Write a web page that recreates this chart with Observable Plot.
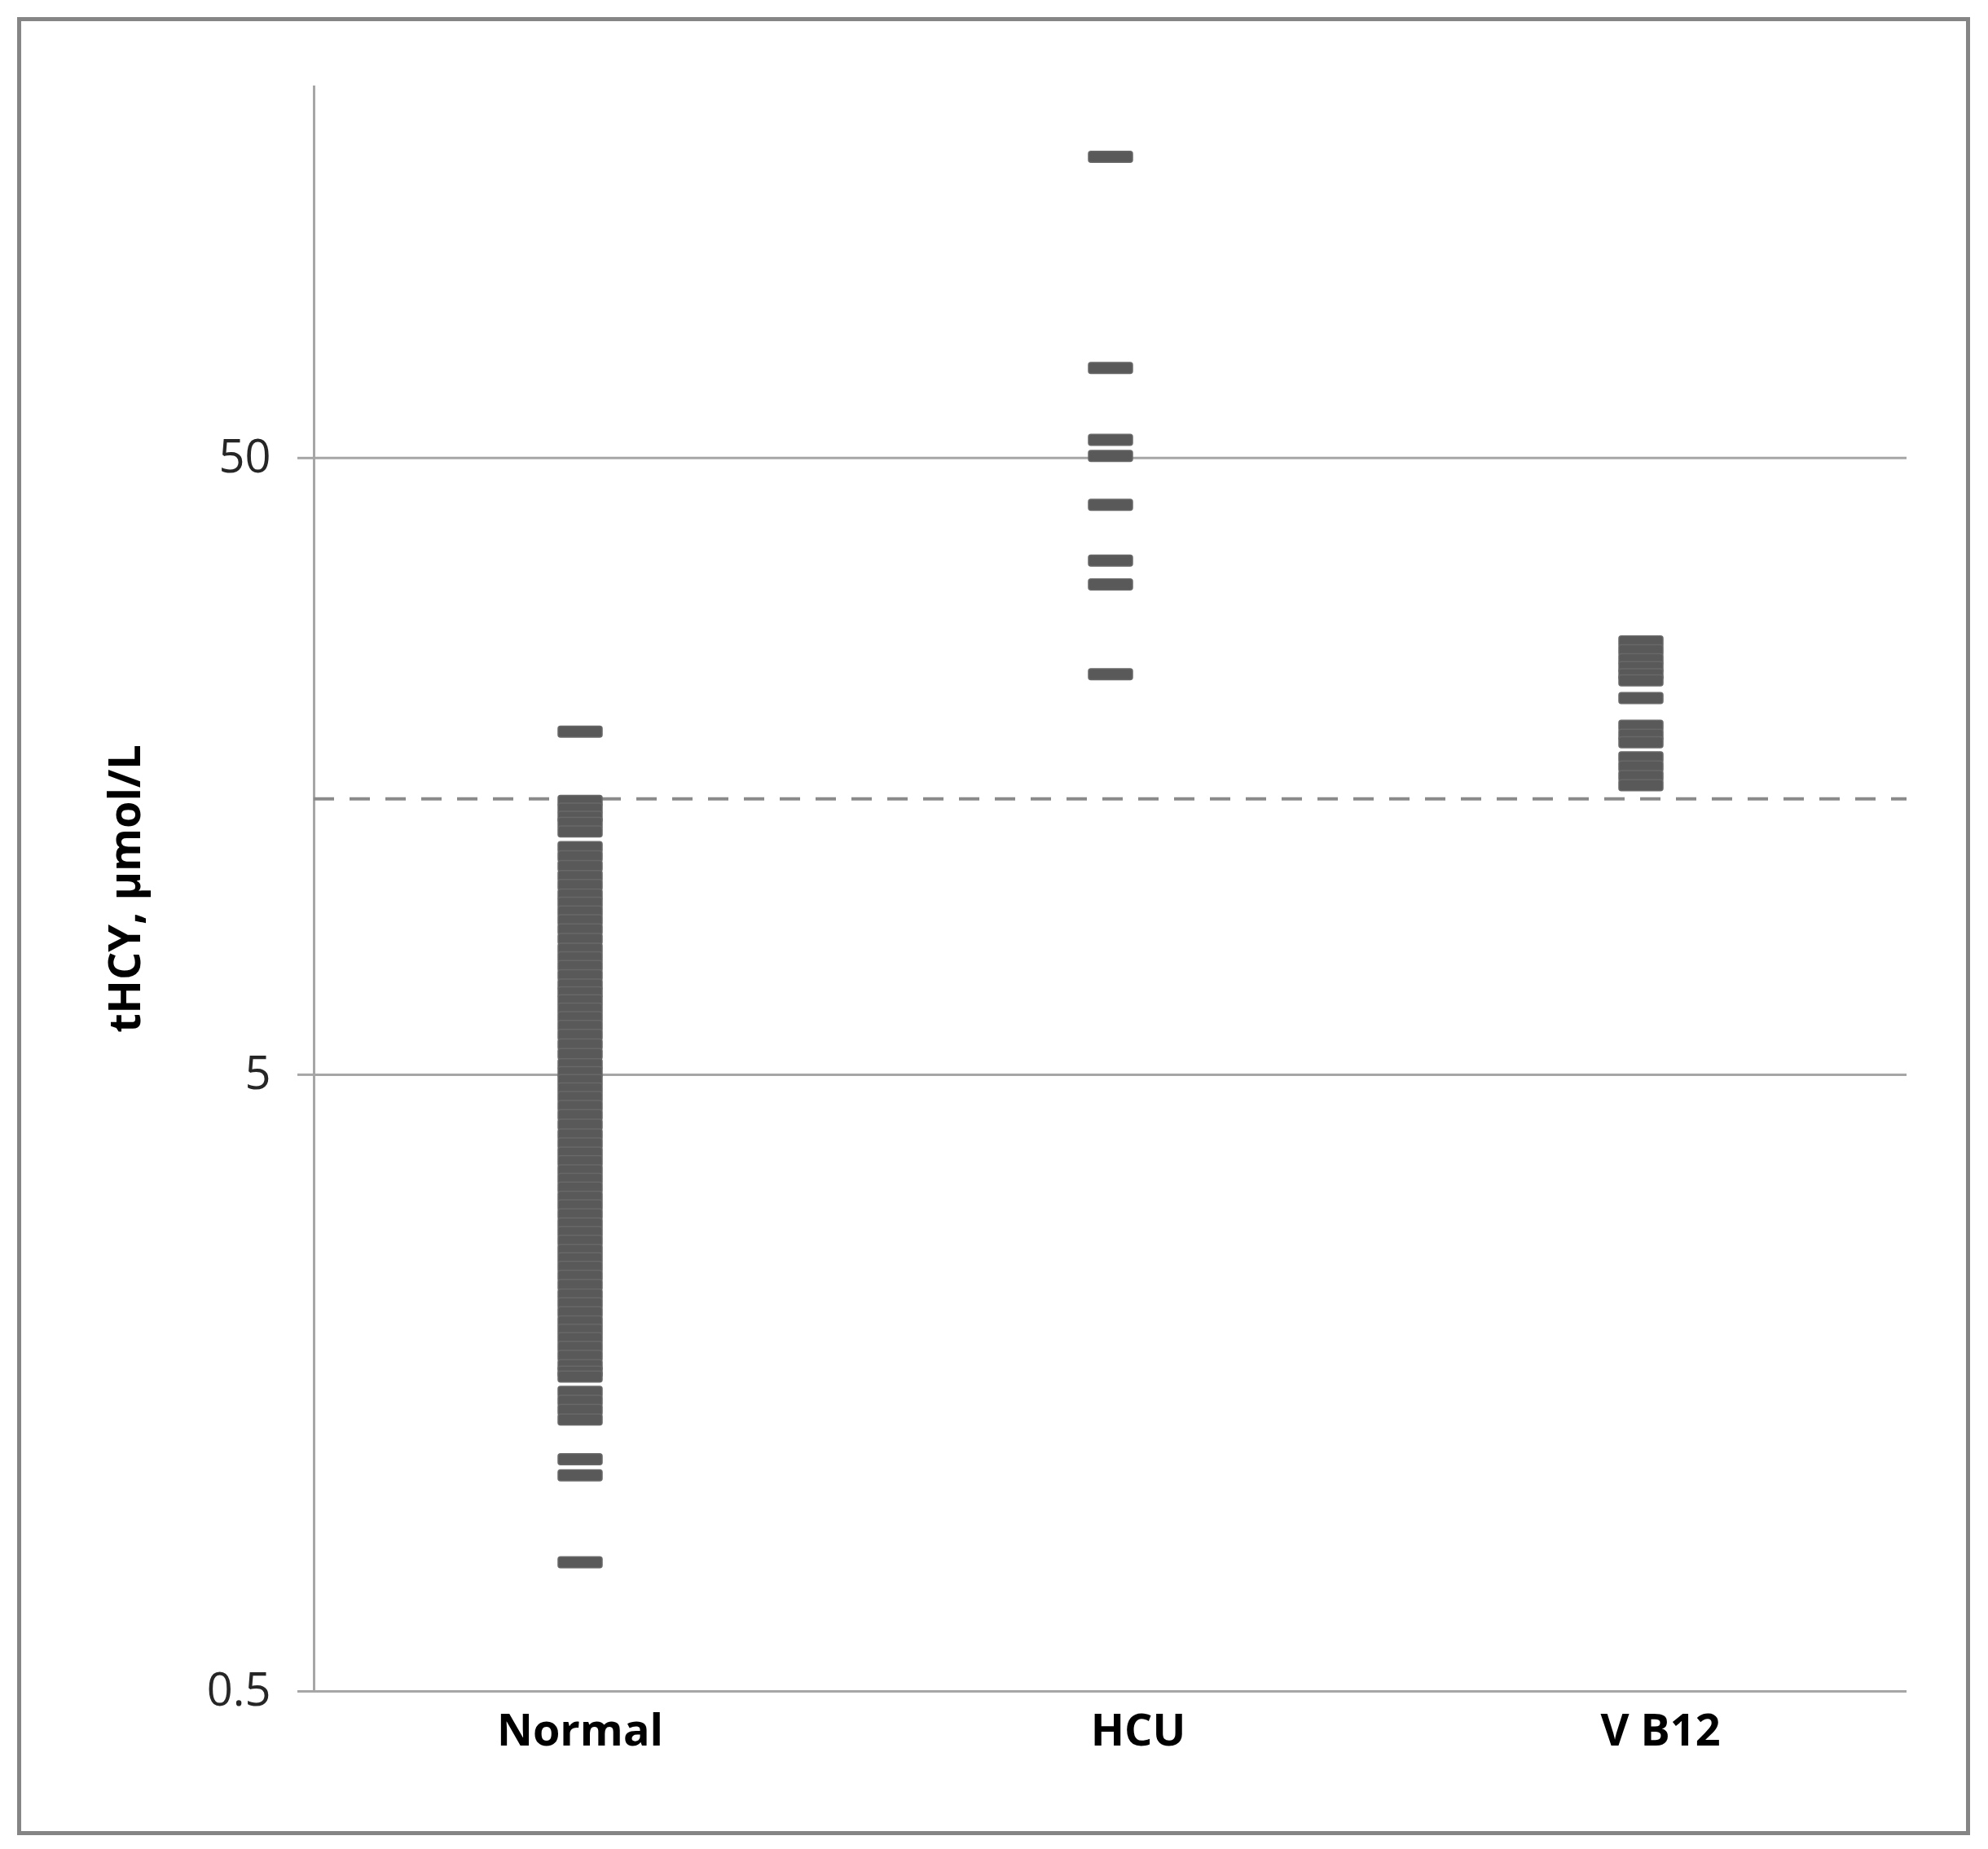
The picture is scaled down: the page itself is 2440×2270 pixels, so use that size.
<!DOCTYPE html>
<html>
<head>
<meta charset="utf-8">
<script src="https://cdn.jsdelivr.net/npm/d3@7"></script>
<script src="https://cdn.jsdelivr.net/npm/@observablehq/plot@0.6"></script>
<style>
  html, body { margin: 0; padding: 0; background: #ffffff; }
  #frame {
    position: absolute; left: 21px; top: 21px;
    width: 2387px; height: 2222px;
    border: 5px solid #858585;
    background: #ffffff;
  }
  #frame svg { display: block; }
</style>
</head>
<body>
<div id="frame"></div>
<script>
const categories = ["Normal", "HCU", "V B12"];

const normalValues = [
  18,
  13.9, 13.5, 13.1, 12.8, 12.4,
  11.7, 11.3, 10.9, 10.5, 10.15, 9.8, 9.5, 9.2, 8.9, 8.6, 8.3, 8.0, 7.75, 7.5, 7.25,
  7.0, 6.8, 6.6, 6.4, 6.2, 6.0, 5.8, 5.6, 5.4, 5.2, 5.05, 4.9, 4.75, 4.6, 4.45, 4.3,
  4.15, 4.0, 3.87, 3.74, 3.62, 3.5, 3.39, 3.28, 3.17, 3.07, 2.97, 2.87, 2.78, 2.69,
  2.6, 2.52, 2.44, 2.36, 2.28, 2.2, 2.13, 2.06, 1.99, 1.93, 1.87, 1.81, 1.75, 1.69,
  1.65, 1.62,
  1.53, 1.48, 1.43, 1.38,
  1.19, 1.12,
  0.81
];
const hcuValues = [154, 70, 53.5, 50.4, 42, 34.1, 31.2, 22.3];
const vb12Values = [25.2, 24.4, 23.6, 22.9, 22.3, 21.8, 20.4, 18.4, 17.8, 17.3, 16.35, 15.8, 15.25, 14.74];

const yTicks = [0.5, 5, 50];
const cutoff = [14];
const yTitle = "tHCY, µmol/L";

const data = [
  ...normalValues.map(v => ({group: categories[0], value: v})),
  ...hcuValues.map(v => ({group: categories[1], value: v})),
  ...vb12Values.map(v => ({group: categories[2], value: v}))
];

// rounded dash marker shape (Excel-like "dash" marker)
const roundedDash = {
  draw(ctx) {
    const w = 27, h = 6.75, r = 3;
    ctx.moveTo(-w + r, -h);
    ctx.lineTo(w - r, -h);
    ctx.arcTo(w, -h, w, -h + r, r);
    ctx.lineTo(w, h - r);
    ctx.arcTo(w, h, w - r, h, r);
    ctx.lineTo(-w + r, h);
    ctx.arcTo(-w, h, -w, h - r, r);
    ctx.lineTo(-w, -h + r);
    ctx.arcTo(-w, -h, -w + r, -h, r);
    ctx.closePath();
  }
};

const xLabelStyle = {tickSize: 0, tickPadding: 28, fontWeight: "bold", fontSize: 54, label: null, fill: "#000000"};

const W = 2387, H = 2222;
const chart = Plot.plot({
  width: W,
  height: H,
  marginLeft: 359,
  marginRight: 73,
  marginTop: 80,
  marginBottom: 172,
  style: {fontFamily: "'Open Sans', sans-serif", fontSize: "56px", background: "#ffffff", color: "#262626"},
  x: {type: "band", domain: categories, padding: 0, label: null},
  y: {type: "log", domain: [0.5, 200], label: null},
  marks: [
    Plot.gridY(yTicks, {stroke: "#a6a6a6", strokeWidth: 3, strokeOpacity: 1}),
    Plot.axisY(yTicks, {tickSize: 20, tickPadding: 33, tickFormat: d => String(d), stroke: "#a6a6a6", strokeWidth: 3, strokeOpacity: 1, label: null, fontSize: 56, fill: "#262626"}),
    Plot.axisX([categories[0]], {...xLabelStyle}),
    Plot.axisX([categories[1]], {...xLabelStyle, dx: 34}),
    Plot.axisX([categories[2]], {...xLabelStyle, dx: 24, letterSpacing: "1px"}),
    Plot.frame({anchor: "left", stroke: "#a6a6a6", strokeWidth: 3, strokeOpacity: 1}),
    Plot.ruleY(cutoff, {stroke: "#8a8a8a", strokeWidth: 4, strokeDasharray: "25,19"}),
    Plot.dot(data, {x: "group", y: "value", symbol: roundedDash, fill: "#595959", stroke: "#686868", strokeWidth: 1.5})
  ]
});

d3.select(chart).append("text")
  .attr("transform", `translate(125, ${(80 + (H - 172)) / 2}) rotate(-90)`)
  .attr("text-anchor", "middle")
  .attr("dominant-baseline", "central")
  .attr("font-family", "'Open Sans', sans-serif")
  .attr("font-weight", "bold")
  .attr("font-size", 54)
  .attr("fill", "#000000")
  .text(yTitle);

document.getElementById("frame").appendChild(chart);
</script>
</body>
</html>
